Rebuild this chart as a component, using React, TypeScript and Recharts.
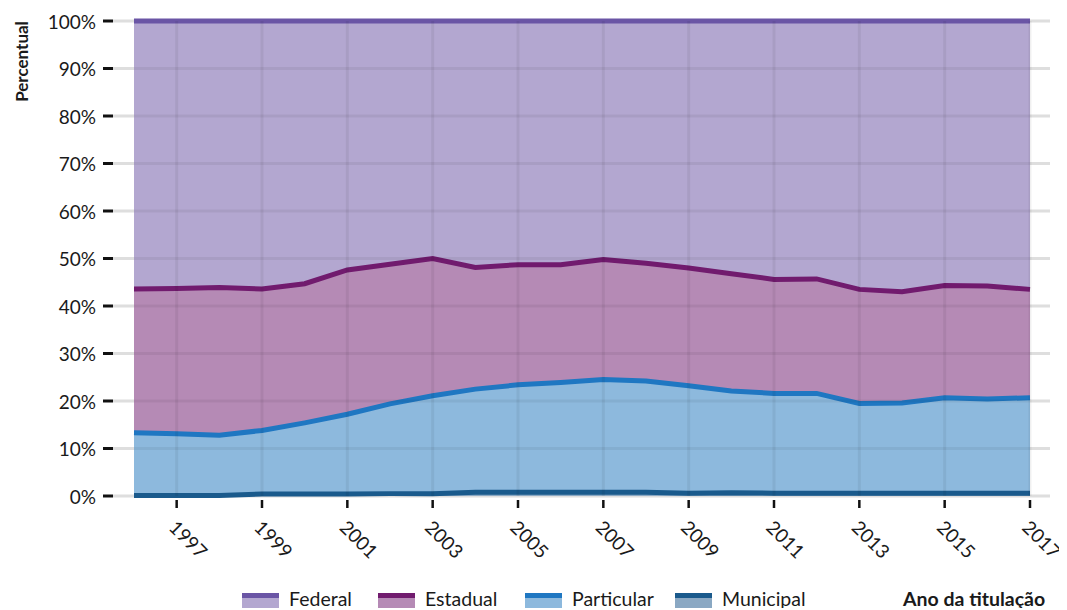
import React from "react";
import {
  AreaChart,
  Area,
  XAxis,
  YAxis,
  CartesianGrid,
  ReferenceLine,
} from "recharts";

const years = [
  1996, 1997, 1998, 1999, 2000, 2001, 2002, 2003, 2004, 2005, 2006, 2007,
  2008, 2009, 2010, 2011, 2012, 2013, 2014, 2015, 2016, 2017,
];
const municipal = [
  0.1, 0.1, 0.1, 0.4, 0.4, 0.4, 0.5, 0.5, 0.8, 0.8, 0.8, 0.8, 0.8, 0.6, 0.7,
  0.6, 0.6, 0.6, 0.6, 0.6, 0.6, 0.6,
];
const particular = [
  13.2, 13.0, 12.7, 13.4, 15.0, 16.8, 18.9, 20.6, 21.7, 22.6, 23.1, 23.7, 23.4,
  22.6, 21.4, 21.0, 21.0, 18.9, 19.0, 20.1, 19.8, 20.1,
];
const estadual = [
  30.3, 30.6, 31.1, 29.8, 29.3, 30.4, 29.4, 28.9, 25.6, 25.3, 24.8, 25.3, 24.8,
  24.8, 24.7, 24.0, 24.1, 24.0, 23.4, 23.6, 23.8, 22.8,
];
const federal = [
  56.4, 56.3, 56.1, 56.4, 55.3, 52.4, 51.2, 50.0, 51.9, 51.3, 51.3, 50.2, 51.0,
  52.0, 53.2, 54.4, 54.3, 56.5, 57.0, 55.7, 55.8, 56.5,
];
const xTicks = [1997, 1999, 2001, 2003, 2005, 2007, 2009, 2011, 2013, 2015, 2017];
const yTicks = [0, 10, 20, 30, 40, 50, 60, 70, 80, 90, 100];

const seriesNames = ["Federal", "Estadual", "Particular", "Municipal"];
const seriesKeys = ["federal", "estadual", "particular", "municipal"];

const data = years.map((year, i) => ({
  year,
  municipal: municipal[i],
  particular: particular[i],
  estadual: estadual[i],
  federal: federal[i],
}));

const FONT = "Lato, 'Open Sans', sans-serif";

const STYLE: Record<string, { fill: string; stroke: string }> = {
  federal: { fill: "#b3a7d0", stroke: "#6a55a5" },
  estadual: { fill: "#b58ab5", stroke: "#711b6e" },
  particular: { fill: "#8db9dd", stroke: "#1f77c2" },
  municipal: { fill: "#8aa8c3", stroke: "#1a5a8c" },
};

const stackOrder = ["municipal", "particular", "estadual", "federal"];

const XTick = (props: any) => {
  const { x, y, payload } = props;
  const cx = x + 12;
  const cy = y + 43;
  return (
    <g>
      <line x1={x} x2={x} y1={y + 4} y2={y + 12} stroke="#111" strokeWidth={2.5} />
      <text
        x={cx}
        y={cy}
        textAnchor="middle"
        dominantBaseline="central"
        transform={`rotate(45, ${cx}, ${cy})`}
        fontFamily={FONT}
        fontSize={19}
        fill="#1a1a1a"
      >
        {payload.value}
      </text>
    </g>
  );
};

const YTick = (props: any) => {
  const { x, y, payload } = props;
  return (
    <g>
      <line x1={x - 10} x2={x} y1={y} y2={y} stroke="#111" strokeWidth={3} />
      <text
        x={x - 17}
        y={y}
        textAnchor="end"
        dominantBaseline="central"
        fontFamily={FONT}
        fontSize={19}
        fill="#1a1a1a"
      >
        {payload.value}%
      </text>
    </g>
  );
};

const legendLeft = [234, 370, 517, 667];

export default function App() {
  return (
    <div style={{ position: "relative", width: 1059, height: 600, fontFamily: FONT }}>
      <AreaChart
        width={1059}
        height={560}
        data={data}
        margin={{ top: 13, right: 17, left: 0, bottom: 0 }}
      >
        <CartesianGrid vertical={false} stroke="#dedede" strokeWidth={3} />
        <XAxis
          dataKey="year"
          type="number"
          domain={[1996, 2017]}
          ticks={xTicks}
          interval={0}
          padding={{ left: 21, right: 20 }}
          axisLine={false}
          tickLine={false}
          tickSize={0}
          tickMargin={0}
          height={72}
          tick={<XTick />}
        />
        <YAxis
          type="number"
          domain={[0, 100]}
          ticks={yTicks}
          interval={0}
          width={105}
          axisLine={false}
          tickLine={false}
          tickSize={0}
          tickMargin={0}
          tick={<YTick />}
        />
        {stackOrder.map((k) => (
          <Area
            key={"f-" + k}
            dataKey={k}
            stackId="fill"
            type="linear"
            stroke="none"
            fill={STYLE[k].fill}
            fillOpacity={1}
            isAnimationActive={false}
            activeDot={false}
          />
        ))}
        {xTicks.map((t) => (
          <ReferenceLine
            key={"vx" + t}
            x={t}
            stroke="rgba(0,0,0,0.06)"
            strokeWidth={3}
          />
        ))}
        {yTicks.slice(1, 10).map((t) => (
          <ReferenceLine
            key={"hy" + t}
            segment={[
              { x: 1996, y: t },
              { x: 2017, y: t },
            ]}
            stroke="rgba(0,0,0,0.06)"
            strokeWidth={3}
          />
        ))}
        {stackOrder.map((k) => (
          <Area
            key={"s-" + k}
            dataKey={k}
            stackId="line"
            type="linear"
            stroke={STYLE[k].stroke}
            strokeWidth={5}
            fill="none"
            fillOpacity={0}
            isAnimationActive={false}
            activeDot={false}
          />
        ))}
      </AreaChart>
      <div
        style={{
          position: "absolute",
          left: 3,
          top: 8,
          width: 20,
          height: 90,
          display: "flex",
          alignItems: "center",
          justifyContent: "center",
        }}
      >
        <div
          style={{
            transform: "rotate(-90deg)",
            whiteSpace: "nowrap",
            fontWeight: 700,
            fontSize: 17,
            color: "#1a1a1a",
          }}
        >
          Percentual
        </div>
      </div>
      {seriesKeys.map((k, i) => (
        <div
          key={k}
          style={{
            position: "absolute",
            left: legendLeft[i],
            top: 581,
            display: "flex",
            alignItems: "flex-start",
          }}
        >
          <div style={{ width: 37, height: 15, marginTop: 4 }}>
            <div style={{ height: 5, background: STYLE[k].stroke }} />
            <div style={{ height: 10, background: STYLE[k].fill }} />
          </div>
          <div
            style={{
              marginLeft: 10,
              fontSize: 19.5,
              lineHeight: "20px",
              color: "#1a1a1a",
              whiteSpace: "nowrap",
            }}
          >
            {seriesNames[i]}
          </div>
        </div>
      ))}
      <div
        style={{
          position: "absolute",
          left: 895,
          top: 581,
          fontSize: 19.5,
          lineHeight: "20px",
          fontWeight: 700,
          color: "#1a1a1a",
          whiteSpace: "nowrap",
        }}
      >
        Ano da titulação
      </div>
    </div>
  );
}
